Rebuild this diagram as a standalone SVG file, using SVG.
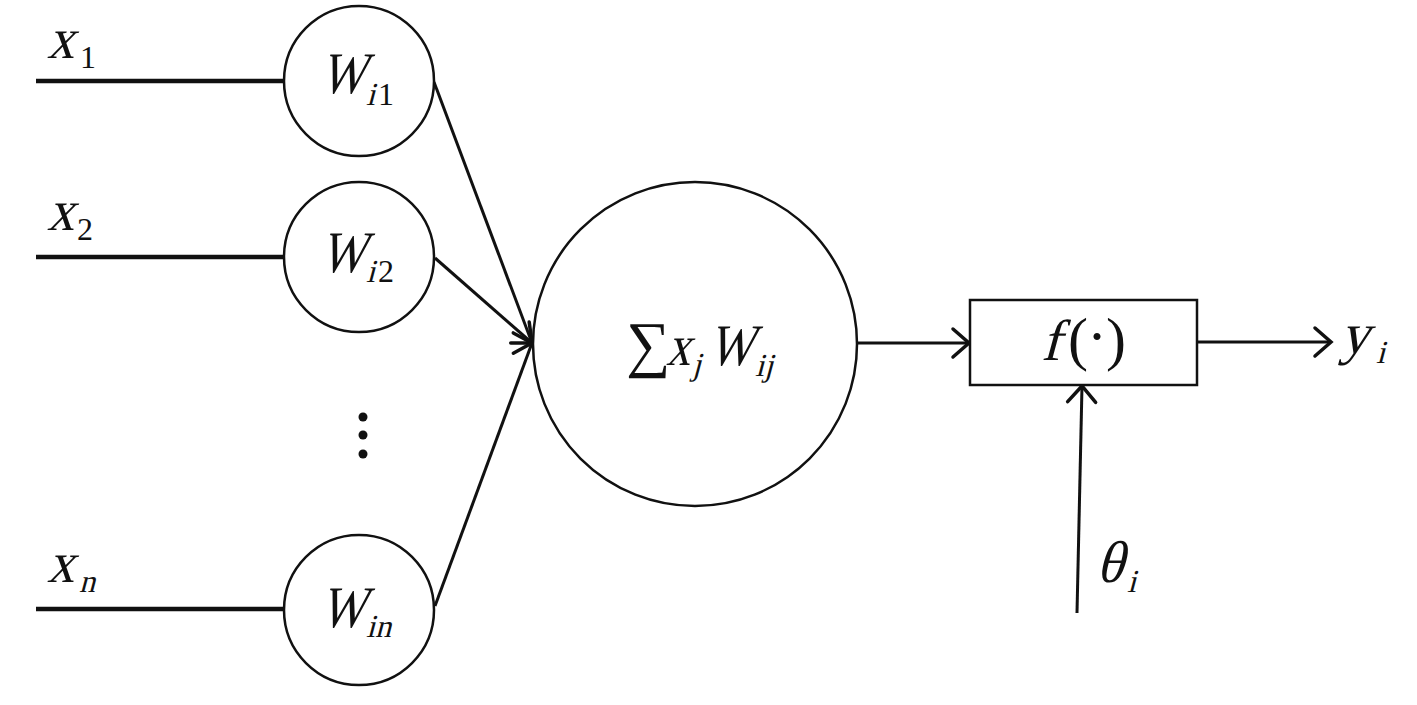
<svg xmlns="http://www.w3.org/2000/svg" width="1417" height="705" viewBox="0 0 1417 705">
<style>
.node{fill:#fff;stroke:#111;stroke-width:2.5}
.in{stroke:#111;stroke-width:4.5;fill:none}
.con{stroke:#111;stroke-width:3;fill:none}
.r{font-family:'Liberation Serif','Times New Roman',serif;fill:#111}
.bx{font-size:58px}
.bw{font-size:59px}
.sub{font-size:32px}
</style>
<defs>
<marker id="ah" markerUnits="userSpaceOnUse" markerWidth="40" markerHeight="40" refX="0" refY="0" viewBox="-20 -20 40 40" orient="auto" overflow="visible">
<path d="M-16,-14 L0,0 L-16,14" fill="none" stroke="#111" stroke-width="3.5" stroke-linecap="round"/>
</marker>
</defs>
<rect width="1417" height="705" fill="#fff"/>
<g id="connectors">
<line class="in" x1="36" y1="81" x2="284" y2="81"/>
<line class="in" x1="36" y1="257" x2="284" y2="257"/>
<line class="in" x1="36" y1="609" x2="284" y2="609"/>
<line class="con" x1="434" y1="82" x2="532" y2="343" marker-end="url(#ah)"/>
<line class="con" x1="435" y1="258" x2="532" y2="343" marker-end="url(#ah)"/>
<line class="con" x1="435" y1="606" x2="532" y2="343" marker-end="url(#ah)"/>
<line class="con" x1="857" y1="343" x2="969" y2="343" marker-end="url(#ah)"/>
<line class="con" x1="1197" y1="342" x2="1331" y2="342" marker-end="url(#ah)"/>
<line class="con" x1="1077" y1="613" x2="1082" y2="386" marker-end="url(#ah)"/>
</g>
<g id="x1"><text class="r bx" transform="translate(47,58) skewX(-15)" textLength="27" lengthAdjust="spacingAndGlyphs">x</text><text class="r sub" x="80" y="68">1</text></g>
<g id="x2"><text class="r bx" transform="translate(47,230) skewX(-15)" textLength="27" lengthAdjust="spacingAndGlyphs">x</text><text class="r sub" x="77" y="240">2</text></g>
<g id="xn"><text class="r bx" transform="translate(47,582) skewX(-15)" textLength="27" lengthAdjust="spacingAndGlyphs">x</text><text class="r sub" transform="translate(79,592) skewX(-15)">n</text></g>
<g id="w1"><circle class="node" cx="359" cy="81" r="75"/><text class="r bw" transform="translate(320,93) skewX(-15)" textLength="45" lengthAdjust="spacingAndGlyphs">W</text><text class="r sub" transform="translate(366,105) skewX(-15)">i</text><text class="r sub" x="378" y="105">1</text></g>
<g id="w2"><circle class="node" cx="359" cy="257" r="75"/><text class="r bw" transform="translate(320,272) skewX(-15)" textLength="45" lengthAdjust="spacingAndGlyphs">W</text><text class="r sub" transform="translate(366,282) skewX(-15)">i</text><text class="r sub" x="378" y="282">2</text></g>
<g id="dots"><circle cx="363" cy="417" r="4.5" fill="#111"/><circle cx="363" cy="435" r="4.5" fill="#111"/><circle cx="363" cy="454" r="4.5" fill="#111"/></g>
<g id="wn"><circle class="node" cx="359" cy="610" r="75"/><text class="r bw" transform="translate(320,627) skewX(-15)" textLength="45" lengthAdjust="spacingAndGlyphs">W</text><text class="r sub" transform="translate(366,637) skewX(-15)">in</text></g>
<g id="sum"><circle class="node" cx="695" cy="344" r="162"/>
<text class="r" x="626" y="365" style="font-size:62px">∑</text>
<text class="r bx" transform="translate(666,365) skewX(-15)" textLength="24" lengthAdjust="spacingAndGlyphs">x</text>
<text class="r sub" transform="translate(692,375) skewX(-15)">j</text>
<text class="r bw" transform="translate(708,365) skewX(-15)" textLength="45" lengthAdjust="spacingAndGlyphs">W</text>
<text class="r sub" transform="translate(755,376) skewX(-15)">ij</text></g>
<g id="f"><rect class="node" x="970" y="300" width="227" height="85"/>
<text class="r" transform="translate(1041,360) skewX(-15)" style="font-size:58px">f</text>
<text class="r" x="1068" y="359" style="font-size:60px">(</text>
<text class="r" x="1097" y="356" style="font-size:60px" text-anchor="middle">·</text>
<text class="r" x="1106" y="359" style="font-size:60px">)</text></g>
<g id="theta"><text class="r bw" transform="translate(1096,582) skewX(-15)" textLength="27" lengthAdjust="spacingAndGlyphs">θ</text><text class="r sub" transform="translate(1127,592) skewX(-15)">i</text></g>
<g id="y"><text class="r bx" transform="translate(1340,353) skewX(-15)" textLength="29" lengthAdjust="spacingAndGlyphs">y</text><text class="r sub" transform="translate(1376,363) skewX(-15)">i</text></g>
</svg>
